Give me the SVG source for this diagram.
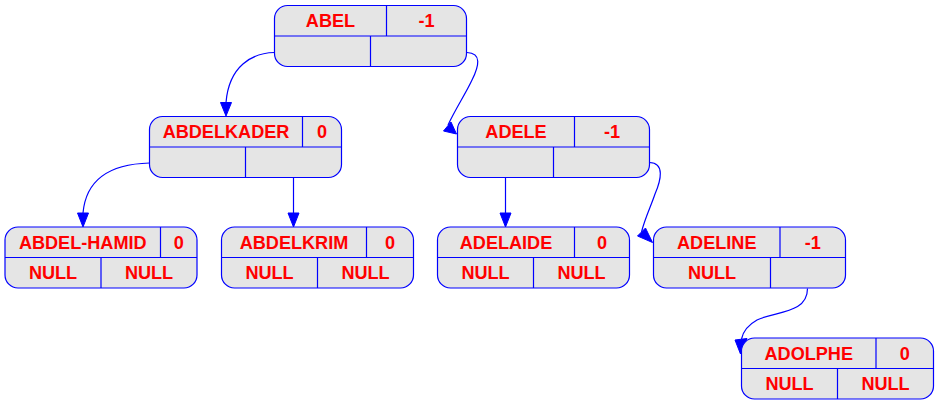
<svg xmlns="http://www.w3.org/2000/svg" width="939" height="405" viewBox="0 0 939 405">
<style>
.box{fill:#e5e5e5;stroke:#0000ff;stroke-width:1.2}
.ln{stroke:#0000ff;stroke-width:1.2;fill:none}
.t{font-family:"Liberation Sans",Arial,sans-serif;font-weight:bold;font-size:18.1px;fill:#ff0000;text-anchor:middle}
.e{stroke:#0000ff;stroke-width:1.2;fill:none}
.ah{fill:#0000ff;stroke:#0000ff;stroke-width:1}
</style>
<rect width="939" height="405" fill="#ffffff"/>
<g id="edges">
<path class="e" d="M274.5,52.5 C252,53 229,66 226,102.5"/>
<polygon class="ah" points="220.5,102.5 231.5,102.5 226,116"/>
<path class="e" d="M467,52.5 C482,53 479,66 472,80 C466,93 456,108 448,125"/>
<polygon class="ah" points="443.5,131 451,122 456.5,134"/>
<path class="e" d="M149.5,163 C110,164 86,180 83,213"/>
<polygon class="ah" points="77.5,213 88.5,213 83,227"/>
<path class="e" d="M293.5,177.5 L293.5,213"/>
<polygon class="ah" points="288,213 299,213 293.5,227"/>
<path class="e" d="M505.5,177.5 L505.5,213"/>
<polygon class="ah" points="500,213 511,213 505.5,227"/>
<path class="e" d="M649.5,162.5 C665,163 661,180 655,194 C651,206 645,218 641.5,232"/>
<polygon class="ah" points="637.5,236 645.5,228 652.5,242.5"/>
<path class="e" d="M807.5,288.5 C807.5,314 775,311 757,320 C748,325 743,332 741.5,339"/>
<polygon class="ah" points="735,340 747,338.5 740.5,354"/>
</g>
<g id="ABEL">
<rect class="box" x="274.5" y="5.5" width="192" height="61" rx="13"/>
<path class="ln" d="M274.5,36 H466.5 M386.5,5.5 V36 M370.5,36 V66.5"/>
<text class="t" x="330.5" y="27">ABEL</text>
<text class="t" x="426.5" y="27">-1</text>
</g>
<g id="ABDELKADER">
<rect class="box" x="149.5" y="116.5" width="192" height="61" rx="13"/>
<path class="ln" d="M149.5,147 H341.5 M302.5,116.5 V147 M245.5,147 V177.5"/>
<text class="t" x="226" y="138">ABDELKADER</text>
<text class="t" x="322" y="138">0</text>
</g>
<g id="ADELE">
<rect class="box" x="457.5" y="116.5" width="192" height="61" rx="13"/>
<path class="ln" d="M457.5,147 H649.5 M574.5,116.5 V147 M553.5,147 V177.5"/>
<text class="t" x="516" y="138">ADELE</text>
<text class="t" x="612" y="138">-1</text>
</g>
<g id="ABDEL-HAMID">
<rect class="box" x="5" y="227" width="192" height="61" rx="13"/>
<path class="ln" d="M5,257.5 H197 M160.5,227 V257.5 M101,257.5 V288"/>
<text class="t" x="82.75" y="248.5">ABDEL-HAMID</text>
<text class="t" x="178.75" y="248.5">0</text>
<text class="t" x="53" y="279">NULL</text>
<text class="t" x="149" y="279">NULL</text>
</g>
<g id="ABDELKRIM">
<rect class="box" x="221.5" y="227" width="192" height="61" rx="13"/>
<path class="ln" d="M221.5,257.5 H413.5 M366.5,227 V257.5 M317.5,257.5 V288"/>
<text class="t" x="294" y="248.5">ABDELKRIM</text>
<text class="t" x="390" y="248.5">0</text>
<text class="t" x="269.5" y="279">NULL</text>
<text class="t" x="365.5" y="279">NULL</text>
</g>
<g id="ADELAIDE">
<rect class="box" x="437.5" y="227" width="192" height="61" rx="13"/>
<path class="ln" d="M437.5,257.5 H629.5 M574.5,227 V257.5 M533.5,257.5 V288"/>
<text class="t" x="506" y="248.5">ADELAIDE</text>
<text class="t" x="602" y="248.5">0</text>
<text class="t" x="485.5" y="279">NULL</text>
<text class="t" x="581.5" y="279">NULL</text>
</g>
<g id="ADELINE">
<rect class="box" x="653.5" y="227" width="192" height="61" rx="13"/>
<path class="ln" d="M653.5,257.5 H845.5 M780,227 V257.5 M770.5,257.5 V288"/>
<text class="t" x="716.75" y="248.5">ADELINE</text>
<text class="t" x="812.75" y="248.5">-1</text>
<text class="t" x="712" y="279">NULL</text>
</g>
<g id="ADOLPHE">
<rect class="box" x="741.5" y="338" width="192" height="61" rx="13"/>
<path class="ln" d="M741.5,368.5 H933.5 M876,338 V368.5 M837.5,368.5 V399"/>
<text class="t" x="808.75" y="359.5">ADOLPHE</text>
<text class="t" x="904.75" y="359.5">0</text>
<text class="t" x="789.5" y="390">NULL</text>
<text class="t" x="885.5" y="390">NULL</text>
</g>
</svg>
